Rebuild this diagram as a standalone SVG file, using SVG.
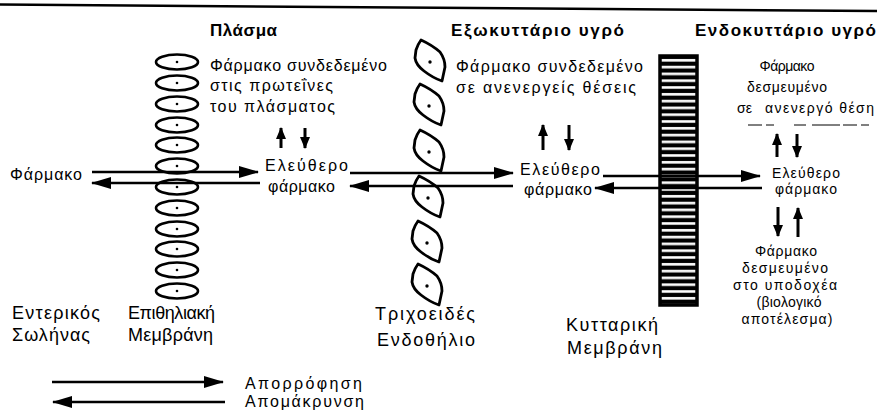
<svg xmlns="http://www.w3.org/2000/svg" xmlns:xlink="http://www.w3.org/1999/xlink" width="879" height="412" viewBox="0 0 879 412">
<defs>
<style>
.t{font-family:"Liberation Sans",Arial,sans-serif;fill:#000}
.h{font-weight:bold;font-size:17px}
.b{font-size:16px}
.s{font-size:14px}
.l{font-size:18px}
.g{font-size:16px}
.m{text-anchor:middle}
.ell{fill:#fff;stroke:#000;stroke-width:2.6}
.cell{fill:#fff;stroke:#000;stroke-width:2.8;stroke-linejoin:round}
.dot{fill:#000}
.ha{stroke:#000;stroke-width:2.4;fill:none;marker-end:url(#ah)}
.va{stroke:#000;stroke-width:3;fill:none;marker-end:url(#av)}
</style>
<marker id="ah" markerUnits="userSpaceOnUse" markerWidth="20" markerHeight="12" refX="19" refY="6" orient="auto"><path d="M0,0 L20,6 L0,12 Z" fill="#000"/></marker>
<marker id="av" markerUnits="userSpaceOnUse" markerWidth="12" markerHeight="10" refX="11" refY="5" orient="auto"><path d="M0,0 L12,5 L0,10 Z" fill="#000"/></marker>
<pattern id="hatch" patternUnits="userSpaceOnUse" x="0" y="57" width="10" height="6.8"><rect width="10" height="6.8" fill="#000"/><rect y="2" width="10" height="2.6" fill="#fff"/></pattern>
<g id="ov"><ellipse class="ell" cx="0" cy="0" rx="21" ry="7.5"/><circle class="dot" cx="0" cy="0" r="1.3"/></g>
<g id="lf"><path class="cell" d="M-9,-22 Q2,-17 10,-10 Q15,-3 15,5 L12,19 Q3,16 -6,9 Q-14,3 -15,-4 L-14,-12 Q-12,-18 -9,-22 Z"/><circle class="dot" cx="0" cy="0" r="1.7"/></g>
</defs>
<rect width="879" height="412" fill="#fff"/>
<line x1="0" y1="4.5" x2="877" y2="11" stroke="#000" stroke-width="2.5"/>

<g id="epithelium">
<use xlink:href="#ov" x="177" y="62"/><use xlink:href="#ov" x="177" y="83"/><use xlink:href="#ov" x="177" y="104"/><use xlink:href="#ov" x="177" y="125"/><use xlink:href="#ov" x="177" y="145"/><use xlink:href="#ov" x="177" y="166"/><use xlink:href="#ov" x="177" y="187"/><use xlink:href="#ov" x="177" y="208"/><use xlink:href="#ov" x="177" y="229"/><use xlink:href="#ov" x="177" y="249"/><use xlink:href="#ov" x="177" y="270"/><use xlink:href="#ov" x="177" y="291"/>
</g>
<g id="endothelium">
<use xlink:href="#lf" x="430" y="62"/><use xlink:href="#lf" x="429" y="106"/><use xlink:href="#lf" x="429" y="152"/><use xlink:href="#lf" x="428" y="198"/><use xlink:href="#lf" x="427" y="243"/><use xlink:href="#lf" x="427" y="286"/>
</g>
<g id="cellmembrane">
<rect x="660" y="56" width="37" height="249" fill="url(#hatch)" stroke="#000" stroke-width="3.5"/>
</g>

<g id="titles">
<text class="t h" x="210" y="36" textLength="67" lengthAdjust="spacing">Πλάσμα</text>
<text class="t h" x="451" y="36" textLength="173" lengthAdjust="spacing">Εξωκυττάριο υγρό</text>
<text class="t h" x="695" y="36" textLength="181" lengthAdjust="spacing">Ενδοκυττάριο υγρό</text>
</g>

<g id="plasma-bound">
<text class="t b" x="210" y="71" textLength="177" lengthAdjust="spacing">Φάρμακο συνδεδεμένο</text>
<text class="t b" x="210" y="91" textLength="123" lengthAdjust="spacing">στις πρωτεΐνες</text>
<text class="t b" x="210" y="112" textLength="125" lengthAdjust="spacing">του πλάσματος</text>
</g>
<g id="extra-bound">
<text class="t b" x="456" y="72" textLength="187" lengthAdjust="spacing">Φάρμακο συνδεδεμένο</text>
<text class="t b" x="456" y="93" textLength="180" lengthAdjust="spacing">σε ανενεργείς θέσεις</text>
</g>
<g id="intra-bound-inactive">
<text class="t s m" x="787" y="71" textLength="55" lengthAdjust="spacing">Φάρμακο</text>
<text class="t s m" x="787" y="92" textLength="80" lengthAdjust="spacing">δεσμευμένο</text>
<text class="t s" x="737" y="113" textLength="15" lengthAdjust="spacing">σε</text>
<text class="t s" x="765" y="113" textLength="109" lengthAdjust="spacing">ανενεργό θέση</text>
<line x1="748" y1="125" x2="877" y2="125" stroke="#000" stroke-width="1" stroke-dasharray="14,4,8,20,12,6,28,3"/>
</g>

<g id="drug">
<text class="t g" x="10" y="180" textLength="72" lengthAdjust="spacing">Φάρμακο</text>
</g>
<g id="free1">
<text class="t g" x="265" y="171" textLength="83" lengthAdjust="spacing">Ελεύθερο</text>
<text class="t g" x="268" y="192" textLength="67" lengthAdjust="spacing">φάρμακο</text>
</g>
<g id="free2">
<text class="t g" x="520" y="175" textLength="80" lengthAdjust="spacing">Ελεύθερο</text>
<text class="t g" x="524" y="195" textLength="68" lengthAdjust="spacing">φάρμακο</text>
</g>
<g id="free3">
<text class="t s m" x="806" y="178" textLength="68" lengthAdjust="spacing">Ελεύθερο</text>
<text class="t s m" x="806" y="194" textLength="62" lengthAdjust="spacing">φάρμακο</text>
</g>
<g id="receptor-bound">
<text class="t s m" x="786" y="256" textLength="62" lengthAdjust="spacing">Φάρμακο</text>
<text class="t s m" x="785" y="273" textLength="86" lengthAdjust="spacing">δεσμευμένο</text>
<text class="t s m" x="785" y="290" textLength="104" lengthAdjust="spacing">στο υποδοχέα</text>
<text class="t s m" x="789" y="307" textLength="65" lengthAdjust="spacing">(βιολογικό</text>
<text class="t s m" x="787" y="324" textLength="91" lengthAdjust="spacing">αποτέλεσμα)</text>
</g>

<g id="labels">
<text class="t l" x="12" y="319" textLength="88" lengthAdjust="spacing">Εντερικός</text>
<text class="t l" x="12" y="341" textLength="78" lengthAdjust="spacing">Σωλήνας</text>
<text class="t l" x="128" y="319" textLength="87" lengthAdjust="spacing">Επιθηλιακή</text>
<text class="t l" x="128" y="341" textLength="85" lengthAdjust="spacing">Μεμβράνη</text>
<text class="t l" x="375" y="320" textLength="100" lengthAdjust="spacing">Τριχοειδές</text>
<text class="t l" x="377" y="346" textLength="98" lengthAdjust="spacing">Ενδοθήλιο</text>
<text class="t l" x="566" y="331" textLength="92" lengthAdjust="spacing">Κυτταρική</text>
<text class="t l" x="567" y="354" textLength="95" lengthAdjust="spacing">Μεμβράνη</text>
</g>

<g id="legend">
<text class="t g" x="245" y="389" textLength="117" lengthAdjust="spacing">Απορρόφηση</text>
<text class="t g" x="245" y="407" textLength="119" lengthAdjust="spacing">Απομάκρυνση</text>
</g>

<g id="connectors">
<line class="ha" x1="92" y1="172" x2="258" y2="172"/>
<line class="ha" x1="260" y1="183" x2="92" y2="183"/>
<line class="ha" x1="350" y1="173" x2="513" y2="173"/>
<line class="ha" x1="513" y1="186" x2="350" y2="186"/>
<line class="ha" x1="603" y1="176" x2="760" y2="176"/>
<line class="ha" x1="762" y1="188" x2="595" y2="188"/>
<line class="ha" x1="52" y1="382" x2="223" y2="382"/>
<line class="ha" x1="225" y1="402" x2="53" y2="402"/>
<line class="va" x1="281" y1="148" x2="281" y2="128"/>
<line class="va" x1="305" y1="128" x2="305" y2="148"/>
<line class="va" x1="543" y1="150" x2="543" y2="125"/>
<line class="va" x1="569" y1="125" x2="569" y2="150"/>
<line class="va" x1="777" y1="157" x2="777" y2="134"/>
<line class="va" x1="797" y1="134" x2="797" y2="157"/>
<line class="va" x1="778" y1="207" x2="778" y2="236"/>
<line class="va" x1="798" y1="237" x2="798" y2="208"/>
</g>
</svg>
